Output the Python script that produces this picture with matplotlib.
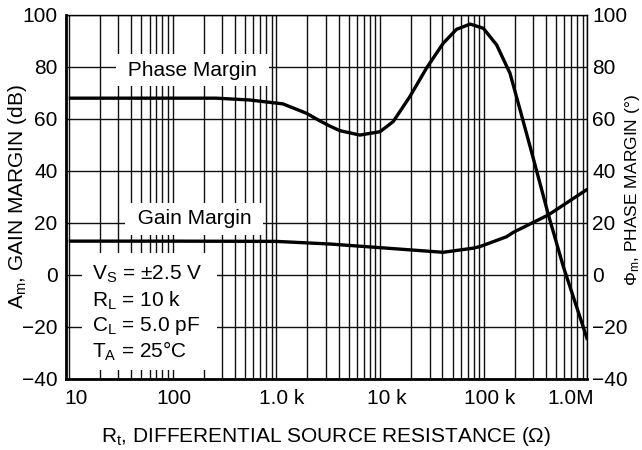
import matplotlib
matplotlib.use('Agg')
import matplotlib.pyplot as plt
from matplotlib.ticker import LogLocator, FixedLocator, NullFormatter
from matplotlib.patches import Rectangle
from matplotlib.transforms import ScaledTranslation

plt.rcParams['font.family'] = ['Liberation Sans', 'DejaVu Sans']
plt.rcParams['mathtext.fontset'] = 'custom'
plt.rcParams['mathtext.rm'] = 'Liberation Sans'
plt.rcParams['mathtext.it'] = 'Liberation Sans:italic'

# data
phase_r = [10, 30, 100, 263, 553, 1160, 1950, 2620, 3270, 4100, 6400, 10000, 13400,
           19400, 28000, 40600, 54700, 74000, 99000, 133000, 179000, 224000,
           300000, 420000, 585000, 1000000]
phase_deg = [68, 68, 68, 68, 67.3, 65.8, 62.2, 59.3, 57.3, 55.5, 53.8, 55.1, 59.0,
             68.6, 79.5, 89.1, 94.5, 96.5, 94.9, 88.5, 77.6, 63.5,
             44.9, 23.1, 3.2, -25]

gain_r = [10, 100, 1000, 3270, 11600, 40600, 79000, 92000, 166000, 193000, 420000, 1000000]
gain_db = [13, 13, 12.9, 11.9, 10.3, 8.7, 10.3, 10.9, 14.7, 16.4, 23.1, 33.0]

y_ticks = [-40, -20, 0, 20, 40, 60, 80, 100]
y_labels = ['\u221240', '\u221220', '0', '20', '40', '60', '80', '100']
x_ticks = [10, 100, 1e3, 1e4, 1e5, 1e6]
x_labels = ['10', '100', '1.0 k', '10 k', '100 k', '1.0M']

conditions = ['V$_\\mathregular{S}$ = \u00b12.5 V',
              'R$_\\mathregular{L}$ = 10 k',
              'C$_\\mathregular{L}$ = 5.0 pF',
              'T$_\\mathregular{A}$ = 25\u00b0C']

FS = 15

fig = plt.figure(figsize=(6.42, 4.5), dpi=100)
ax = fig.add_axes([0.1028, 0.158, 0.8123, 0.8087])

ax.set_xscale('log')
ax.set_xlim(9.4, 1e6)
ax.set_ylim(-40, 100)

ax.xaxis.set_major_locator(FixedLocator(x_ticks))
ax.xaxis.set_minor_locator(LogLocator(base=10, subs=range(2, 10), numticks=20))
ax.xaxis.set_minor_formatter(NullFormatter())
ax.set_xticklabels(x_labels)
ax.set_yticks(y_ticks)
ax.set_yticklabels(y_labels)

ax.grid(which='major', axis='both', color='#111111', lw=1.0, zorder=1)
ax.grid(which='minor', axis='x', color='#111111', lw=1.0, zorder=1)
ax.set_axisbelow(True)

ax.tick_params(which='both', length=0, labelsize=FS)
ax.tick_params(axis='y', pad=6)
ax.tick_params(axis='x', pad=7)

# nudge x tick labels like the datasheet does (pixels)
x_nudge = [7.5, 1, 5, 7, 6, -17]
for lbl, dx in zip(ax.get_xticklabels(), x_nudge):
    lbl.set_transform(lbl.get_transform() + ScaledTranslation(dx / 100, 0, fig.dpi_scale_trans))

for side in ['left', 'bottom']:
    ax.spines[side].set_linewidth(2.0)
for side in ['top', 'right']:
    ax.spines[side].set_linewidth(1.0)

# curves
ax.plot(phase_r, phase_deg, color='black', lw=2.4, zorder=5, solid_capstyle='butt')
ax.plot(gain_r, gain_db, color='black', lw=2.4, zorder=5, solid_capstyle='butt')

# labels on curves
ax.text(156, 78.8, ' Phase Margin ', fontsize=FS, ha='center', va='center', zorder=4,
        bbox=dict(facecolor='white', edgecolor='none', boxstyle='square,pad=0.3'))
ax.text(162, 21.6, ' Gain Margin ', fontsize=FS, ha='center', va='center', zorder=4,
        bbox=dict(facecolor='white', edgecolor='none', boxstyle='square,pad=0.3'))

# conditions box
ax.add_patch(Rectangle((0.0307, 0.025), 0.258, 0.321, transform=ax.transAxes,
                       facecolor='white', edgecolor='none', zorder=3))
for i, line in enumerate(conditions):
    ax.text(0.049, 0.286 - i * 0.0703, line, transform=ax.transAxes, fontsize=FS,
            ha='left', va='center', zorder=4)

ax2 = ax.twinx()
ax2.set_ylim(-40, 100)
ax2.set_yticks(y_ticks)
ax2.set_yticklabels(y_labels)
ax2.tick_params(length=0, labelsize=FS, pad=3.5)
for side in ['left', 'bottom', 'top', 'right']:
    ax2.spines[side].set_visible(False)

# axis titles
fig.text(0.5 * (66 + 587) / 642, 1 - 436 / 450,
         'R$_\\mathregular{t}$, DIFFERENTIAL SOURCE RESISTANCE (\u03a9)',
         fontsize=FS, ha='center', va='center')
fig.text(18 / 642, 1 - 197 / 450, 'A$_\\mathregular{m}$, GAIN MARGIN (dB)',
         fontsize=FS, ha='center', va='center', rotation=90)
fig.text(642 / 642, 1 - 190 / 450, '\u03a6$_\\mathregular{m}$, PHASE MARGIN (\u00b0)',
         fontsize=12.5, ha='right', va='center', rotation=90)

fig.savefig('out.png', dpi=100)
